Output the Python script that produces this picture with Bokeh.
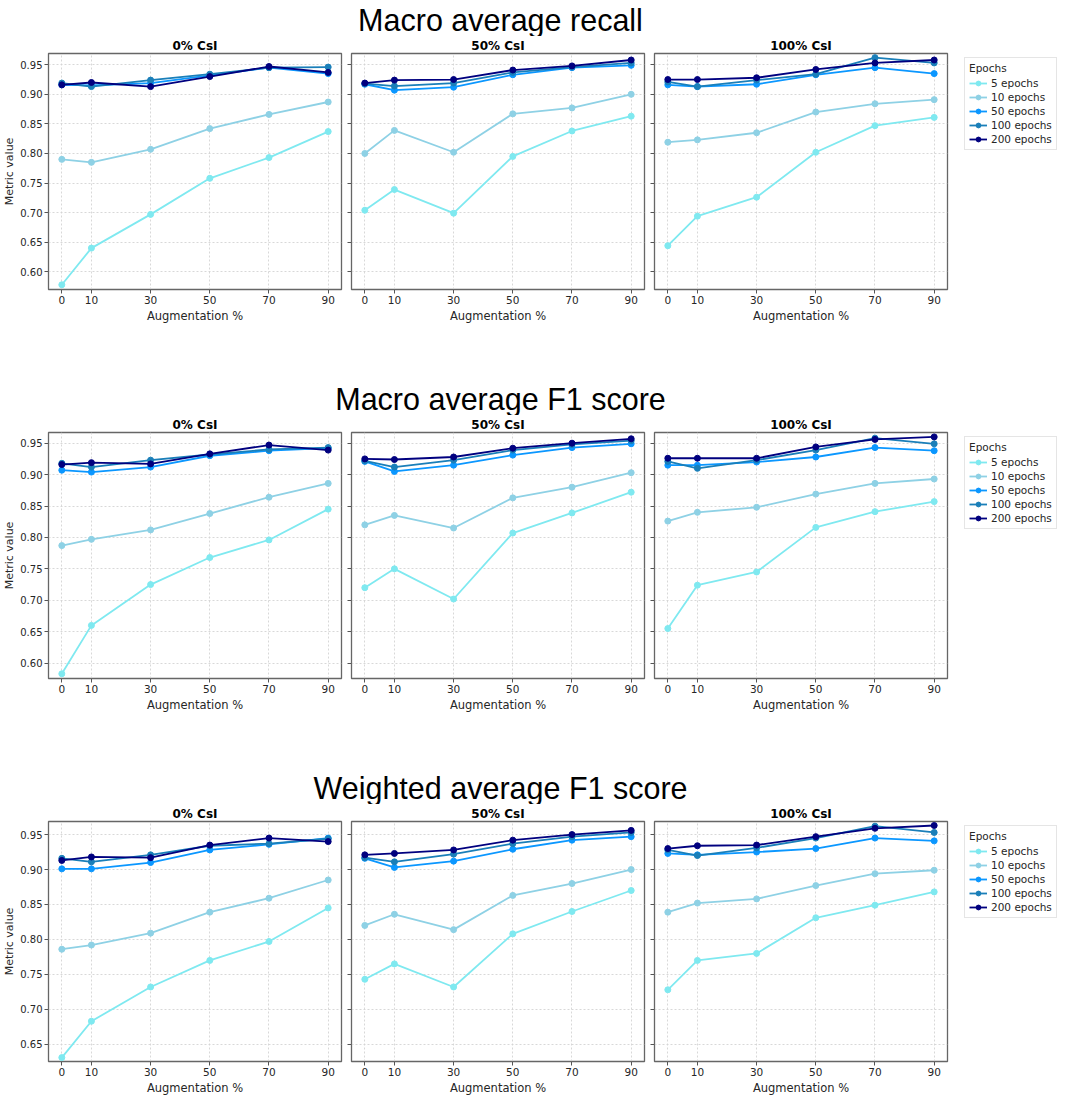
from bokeh.plotting import figure
from bokeh.layouts import column, row
from bokeh.models import (Range1d, FixedTicker, PrintfTickFormatter, CustomJSTickFormatter,
                          Legend, LegendItem, ColumnDataSource)
from bokeh.embed import file_html
from bokeh.resources import INLINE

# ---------------- data ----------------
augmentation = [0, 10, 30, 50, 70, 90]
x_ticks = [0, 10, 30, 50, 70, 90]
epoch_labels = ["5 epochs", "10 epochs", "50 epochs", "100 epochs", "200 epochs"]
epoch_colors = ["#7fe9f0", "#8ed1e5", "#0b97ff", "#1a7fb9", "#00007f"]
csi_labels = ["0% CsI", "50% CsI", "100% CsI"]
metric_titles = ["Macro average recall", "Macro average F1 score", "Weighted average F1 score"]
y_ticks_rows = [[0.60, 0.65, 0.70, 0.75, 0.80, 0.85, 0.90, 0.95],
                [0.60, 0.65, 0.70, 0.75, 0.80, 0.85, 0.90, 0.95],
                [0.65, 0.70, 0.75, 0.80, 0.85, 0.90, 0.95]]

# rows: 5, 10, 50, 100, 200 epochs; columns: augmentation 0,10,30,50,70,90
recall_csi0 = [
    [0.578, 0.640, 0.697, 0.758, 0.793, 0.837],
    [0.790, 0.785, 0.807, 0.842, 0.866, 0.887],
    [0.916, 0.915, 0.919, 0.932, 0.945, 0.935],
    [0.919, 0.913, 0.924, 0.934, 0.945, 0.946],
    [0.916, 0.920, 0.913, 0.930, 0.947, 0.937],
]
recall_csi50 = [
    [0.704, 0.739, 0.699, 0.795, 0.838, 0.863],
    [0.800, 0.839, 0.802, 0.867, 0.877, 0.900],
    [0.917, 0.907, 0.912, 0.933, 0.945, 0.949],
    [0.918, 0.914, 0.919, 0.937, 0.946, 0.953],
    [0.919, 0.924, 0.925, 0.941, 0.948, 0.958],
]
recall_csi100 = [
    [0.644, 0.694, 0.726, 0.802, 0.847, 0.861],
    [0.819, 0.823, 0.835, 0.870, 0.884, 0.891],
    [0.916, 0.913, 0.917, 0.933, 0.945, 0.935],
    [0.921, 0.913, 0.924, 0.934, 0.962, 0.953],
    [0.925, 0.925, 0.928, 0.942, 0.953, 0.958],
]
f1_csi0 = [
    [0.583, 0.660, 0.725, 0.768, 0.796, 0.845],
    [0.787, 0.797, 0.812, 0.838, 0.864, 0.886],
    [0.907, 0.904, 0.912, 0.930, 0.938, 0.942],
    [0.918, 0.912, 0.923, 0.932, 0.940, 0.943],
    [0.916, 0.919, 0.917, 0.933, 0.947, 0.939],
]
f1_csi50 = [
    [0.720, 0.750, 0.702, 0.807, 0.839, 0.872],
    [0.820, 0.835, 0.815, 0.863, 0.880, 0.903],
    [0.921, 0.905, 0.915, 0.931, 0.943, 0.949],
    [0.922, 0.912, 0.923, 0.939, 0.948, 0.954],
    [0.925, 0.924, 0.928, 0.942, 0.950, 0.957],
]
f1_csi100 = [
    [0.655, 0.724, 0.745, 0.816, 0.841, 0.857],
    [0.826, 0.840, 0.848, 0.869, 0.886, 0.893],
    [0.915, 0.915, 0.920, 0.928, 0.943, 0.938],
    [0.921, 0.910, 0.923, 0.939, 0.958, 0.949],
    [0.926, 0.926, 0.926, 0.944, 0.956, 0.960],
]
wf1_csi0 = [
    [0.631, 0.683, 0.732, 0.770, 0.797, 0.845],
    [0.786, 0.792, 0.809, 0.839, 0.859, 0.885],
    [0.901, 0.901, 0.910, 0.928, 0.936, 0.945],
    [0.916, 0.911, 0.921, 0.934, 0.937, 0.944],
    [0.913, 0.918, 0.917, 0.935, 0.945, 0.940],
]
wf1_csi50 = [
    [0.743, 0.765, 0.732, 0.808, 0.840, 0.870],
    [0.820, 0.836, 0.814, 0.863, 0.880, 0.900],
    [0.916, 0.903, 0.912, 0.929, 0.942, 0.947],
    [0.917, 0.911, 0.922, 0.937, 0.947, 0.953],
    [0.921, 0.923, 0.928, 0.942, 0.950, 0.956],
]
wf1_csi100 = [
    [0.728, 0.770, 0.780, 0.831, 0.849, 0.868],
    [0.839, 0.852, 0.858, 0.877, 0.894, 0.899],
    [0.923, 0.921, 0.925, 0.930, 0.945, 0.941],
    [0.928, 0.920, 0.931, 0.945, 0.962, 0.953],
    [0.930, 0.934, 0.935, 0.947, 0.959, 0.963],
]

rows_data = [[recall_csi0, recall_csi50, recall_csi100],
             [f1_csi0, f1_csi50, f1_csi100],
             [wf1_csi0, wf1_csi50, wf1_csi100]]

# ---------------- styling / layout ----------------
FW = 293
FH_rows = [236, 246, 240]
band_heights = [36, 90, 90]
y_ranges = [(0.570, 0.969), (0.5755, 0.967), (0.6254, 0.9687)]
FONT = "DejaVu Sans"
TITLE_FONT = "Liberation Sans"
TEXT_COL = "#262626"
BAND_W = 1000   # title band centred over the three panels


def title_band(text, h):
    t = figure(width=BAND_W, height=h, toolbar_location=None, output_backend="svg",
               title=text, title_location="below", min_border=0,
               x_axis_location=None, y_axis_location=None,
               x_range=Range1d(0, 1), y_range=Range1d(0, 1))
    t.grid.visible = False
    t.outline_line_color = None
    t.title.align = "center"
    t.title.text_font = TITLE_FONT
    t.title.text_font_size = "30.5px"
    t.title.text_font_style = "normal"
    t.title.text_color = "black"
    t.title.standoff = 0
    t.title.offset = 0
    return t


def panel(data, csi, yr, yticks, idx, fh):
    first = idx == 0
    last = idx == 2
    p = figure(frame_width=FW, frame_height=fh, toolbar_location=None, output_backend="svg",
               x_range=Range1d(-4.5, 94.5), y_range=Range1d(*yr),
               min_border_top=16, min_border_bottom=34,
               min_border_left=0 if first else 6, min_border_right=0 if last else 4)
    p.title.text = csi
    p.title.align = "center"
    p.title.text_font = FONT
    p.title.text_font_size = "12px"
    p.title.text_font_style = "bold"
    p.title.text_color = "black"
    p.title.standoff = 1

    p.outline_line_color = "#666666"
    p.outline_line_width = 1.3

    for ax in (p.xaxis[0], p.yaxis[0]):
        ax.axis_line_color = None
        ax.major_tick_line_color = "#555555"
        ax.major_tick_out = 4
        ax.major_tick_in = 0
        ax.minor_tick_line_color = None
        ax.major_label_text_font = FONT
        ax.major_label_text_font_size = "10.5px"
        ax.major_label_text_color = TEXT_COL
        ax.axis_label_text_font = FONT
        ax.axis_label_text_font_size = "11.5px"
        ax.axis_label_text_font_style = "normal"
        ax.axis_label_text_color = TEXT_COL
        ax.axis_label_standoff = 2
        ax.major_label_standoff = 2

    p.xaxis.ticker = FixedTicker(ticks=x_ticks)
    p.xaxis.axis_label = "Augmentation %"
    p.yaxis.ticker = FixedTicker(ticks=yticks)
    if first:
        p.yaxis.formatter = PrintfTickFormatter(format="%.2f")
        p.yaxis.axis_label = "Metric value"
        p.yaxis.major_label_text_font_size = "10px"
        p.yaxis.axis_label_text_font_size = "11px"
        p.yaxis.axis_label_standoff = 1
    else:
        p.yaxis.formatter = CustomJSTickFormatter(code="return ''")
        p.yaxis.major_label_standoff = 0

    for g in (p.xgrid[0], p.ygrid[0]):
        g.grid_line_color = "#d4d4d4"
        g.grid_line_dash = "2 2"
        g.grid_line_width = 0.9

    items = []
    for i, (lab, col) in enumerate(zip(epoch_labels, epoch_colors)):
        src = ColumnDataSource(dict(x=augmentation, y=data[i]))
        ln = p.line("x", "y", source=src, line_color=col, line_width=1.8)
        sc = p.scatter("x", "y", source=src, marker="circle", size=6,
                       fill_color=col, line_color=col)
        items.append(LegendItem(label=lab, renderers=[ln, sc]))

    if last:
        leg = Legend(items=items, title="Epochs", location=(17, fh - 5 - 92))
        leg.margin = 0
        leg.padding = 4
        leg.spacing = 2
        leg.glyph_width = 18
        leg.glyph_height = 12
        leg.label_height = 12
        leg.label_standoff = 4
        leg.label_text_font = FONT
        leg.label_text_font_size = "10.5px"
        leg.label_text_color = TEXT_COL
        leg.title_text_font = FONT
        leg.title_text_font_size = "10.5px"
        leg.title_text_font_style = "normal"
        leg.title_text_color = TEXT_COL
        leg.title_standoff = 3
        leg.border_line_color = "#cccccc"
        leg.border_line_width = 1
        leg.background_fill_color = "white"
        p.add_layout(leg, "right")
    return p


blocks = []
for r in range(3):
    blocks.append(title_band(metric_titles[r], band_heights[r]))
    figs = [panel(rows_data[r][c], csi_labels[c], y_ranges[r], y_ticks_rows[r], c, FH_rows[r])
            for c in range(3)]
    blocks.append(row(*figs))

layout = column(*blocks)

open("out.html", "w").write(file_html(layout, INLINE))
